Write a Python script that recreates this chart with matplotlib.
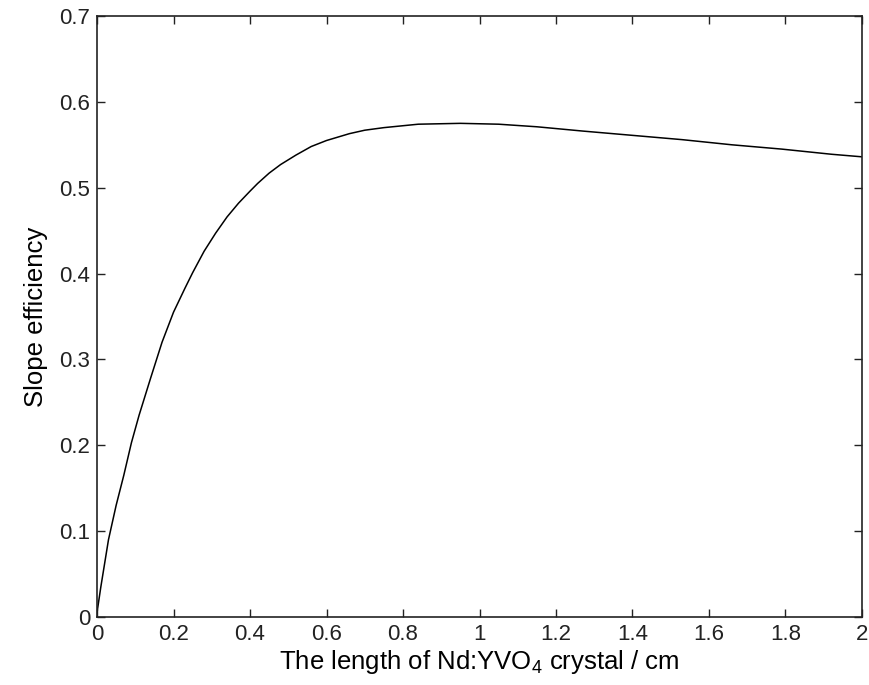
import matplotlib
matplotlib.use('Agg')
import matplotlib.pyplot as plt

plt.rcParams['font.family'] = ['Liberation Sans', 'DejaVu Sans']
plt.rcParams['mathtext.default'] = 'regular'

# crystal length (cm) and slope efficiency
length_cm = [0, 0.01, 0.03, 0.05, 0.07, 0.09, 0.11, 0.14, 0.17, 0.2, 0.23,
             0.25, 0.28, 0.31, 0.34, 0.37, 0.4, 0.42, 0.45, 0.48, 0.52,
             0.56, 0.6, 0.66, 0.7, 0.75, 0.84, 0.95, 1.05, 1.15, 1.27,
             1.4, 1.53, 1.66, 1.79, 1.92, 2.0]
slope_eff = [0.005, 0.035, 0.09, 0.13, 0.165, 0.203, 0.235, 0.278, 0.32,
             0.355, 0.383, 0.401, 0.426, 0.447, 0.466, 0.482, 0.496, 0.505,
             0.517, 0.527, 0.538, 0.548, 0.555, 0.563, 0.567, 0.570, 0.574,
             0.575, 0.574, 0.571, 0.566, 0.561, 0.556, 0.550, 0.545, 0.539,
             0.536]

x_ticks = [0, 0.2, 0.4, 0.6, 0.8, 1, 1.2, 1.4, 1.6, 1.8, 2]
x_labels = ['0', '0.2', '0.4', '0.6', '0.8', '1', '1.2', '1.4', '1.6', '1.8', '2']
y_ticks = [0, 0.1, 0.2, 0.3, 0.4, 0.5, 0.6, 0.7]
y_labels = ['0', '0.1', '0.2', '0.3', '0.4', '0.5', '0.6', '0.7']

fig = plt.figure(figsize=(8.7, 6.85), dpi=100)
ax = fig.add_axes([0.1115, 0.0993, 0.8793, 0.8773])

ax.plot(length_cm, slope_eff, color='black', linewidth=1.1)

ax.set_xlim(0, 2)
ax.set_ylim(0, 0.7)
ax.set_xticks(x_ticks)
ax.set_xticklabels(x_labels)
ax.set_yticks(y_ticks)
ax.set_yticklabels(y_labels)
ax.tick_params(direction='in', length=6, width=1, top=True, right=True,
               labelsize=16, colors='#222222', pad=5)
for s in ax.spines.values():
    s.set_linewidth(1.2)
    s.set_color('#222222')

ax.set_xlabel('The length of Nd:YVO$_4$ crystal / cm', fontsize=18.5, labelpad=2)
ax.set_ylabel('Slope efficiency', fontsize=18.5, labelpad=8)

fig.savefig('out.png', dpi=100)
